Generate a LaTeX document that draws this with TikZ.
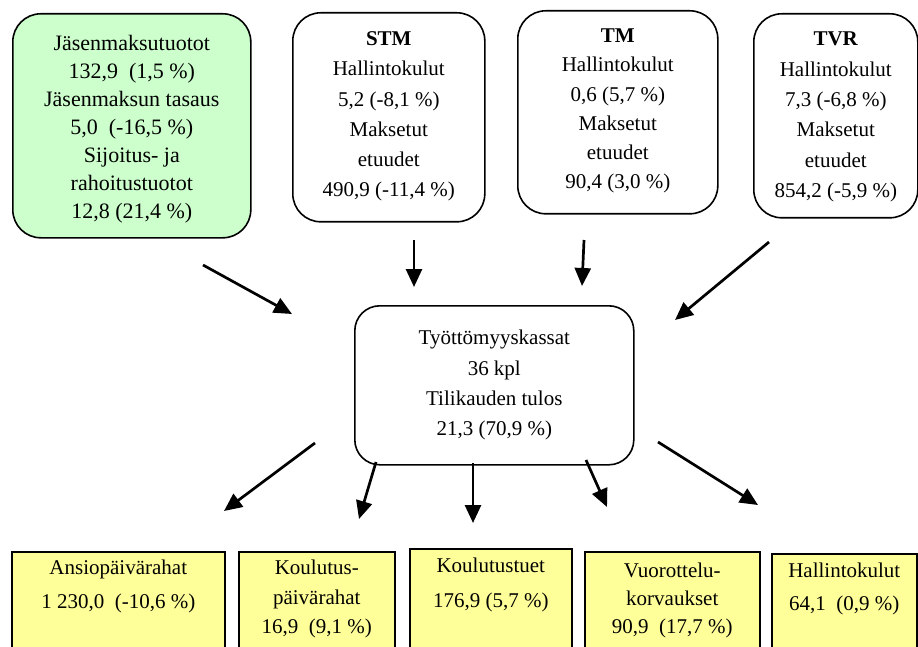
\documentclass[tikz,border=0pt]{standalone}
\usepackage{fontspec}
\setmainfont{Liberation Serif}
\usetikzlibrary{arrows.meta}
\definecolor{boxgreen}{HTML}{CCFFCC}
\definecolor{boxyellow}{HTML}{FFFF99}
% #1 width, #2 height, #3 first baseline from top, #4 baselineskip, #5 text
\newcommand{\bxt}[5]{\begin{minipage}[t][#2][t]{#1}\centering\fontsize{21}{#4}\selectfont\rule{0pt}{#3}#5\end{minipage}}
\tikzset{
  rbox/.style={draw, line width=1.6pt, rounded corners=28pt, inner sep=0pt, anchor=north west},
  sbox/.style={draw, line width=1.6pt, fill=boxyellow, inner sep=0pt, anchor=north west},
  arr/.style={line width=2.7pt, -{Triangle[length=18pt,width=16pt]}}
}
\begin{document}
\begin{tikzpicture}[x=1pt,y=-1pt]
\useasboundingbox (0,0) rectangle (918,647);
% top boxes
\node[rbox, fill=boxgreen] (green) at (12,13)
  {\bxt{238pt}{224pt}{37pt}{28pt}{\fontsize{22}{28}\selectfont Jäsenmaksutuotot\\132,9\ \ (1,5~\%)\\Jäsenmaksun tasaus\\5,0\ \ (-16,5~\%)\\Sijoitus- ja\\rahoitustuotot\\12,8 (21,4~\%)}};
\node[rbox] (stm) at (292,12)
  {\bxt{192pt}{209pt}{33pt}{30.2pt}{\textbf{STM}\\Hallintokulut\\5,2 (-8,1~\%)\\Maksetut\\etuudet\\490,9 (-11,4~\%)}};
\node[rbox] (tm) at (517,10)
  {\bxt{200pt}{203pt}{32pt}{29.2pt}{\textbf{TM}\\Hallintokulut\\0,6 (5,7~\%)\\Maksetut\\etuudet\\90,4 (3,0~\%)}};
\node[rbox] (tvr) at (753,13)
  {\bxt{164pt}{204pt}{32pt}{30.4pt}{\textbf{TVR}\\Hallintokulut\\7,3 (-6,8~\%)\\Maksetut\\etuudet\\854,2 (-5,9~\%)}};
% center box
\node[rbox, rounded corners=25pt] (center) at (354,305)
  {\bxt{279pt}{159pt}{39pt}{30.3pt}{Työttömyyskassat\\36 kpl\\Tilikauden tulos\\21,3 (70,9~\%)}};
% bottom boxes
\node[sbox] (ansio) at (11,551)
  {\bxt{213pt}{120pt}{23pt}{34pt}{Ansiopäivärahat\\1 230,0\ \ (-10,6~\%)}};
\node[sbox] (koul) at (238,551)
  {\bxt{156pt}{120pt}{23pt}{29.5pt}{Koulutus-\\päivärahat\\16,9\ \ (9,1~\%)}};
\node[sbox] (tuet) at (409,548)
  {\bxt{162pt}{120pt}{24pt}{35pt}{Koulutustuet\\176,9 (5,7~\%)}};
\node[sbox] (vuor) at (584,551)
  {\bxt{175pt}{120pt}{26pt}{28pt}{Vuorottelu-\\korvaukset\\90,9\ \ (17,7~\%)}};
\node[sbox] (hall) at (771,553)
  {\bxt{145pt}{120pt}{24pt}{33pt}{Hallintokulut\\64,1\ \ (0,9~\%)}};
% arrow end points
\coordinate (g1) at (203,265);  \coordinate (g2) at (292,314);
\coordinate (s1) at (414,240);  \coordinate (s2) at (414,287);
\coordinate (t1) at (584,240);  \coordinate (t2) at (582,286);
\coordinate (v1) at (769,242);  \coordinate (v2) at (675,320);
\coordinate (b1s) at (315,443); \coordinate (b1e) at (224,511);
\coordinate (b2s) at (376,462); \coordinate (b2e) at (359,519);
\coordinate (b3s) at (473,463); \coordinate (b3e) at (473,523);
\coordinate (b4s) at (586,460); \coordinate (b4e) at (607,507);
\coordinate (b5s) at (658,442); \coordinate (b5e) at (758,505);
\draw[arr] (g1) -- (g2);
\draw[arr] (s1) -- (s2);
\draw[arr] (t1) -- (t2);
\draw[arr] (v1) -- (v2);
\draw[arr] (b1s) -- (b1e);
\draw[arr] (b2s) -- (b2e);
\draw[arr] (b3s) -- (b3e);
\draw[arr] (b4s) -- (b4e);
\draw[arr] (b5s) -- (b5e);
\end{tikzpicture}
\end{document}
